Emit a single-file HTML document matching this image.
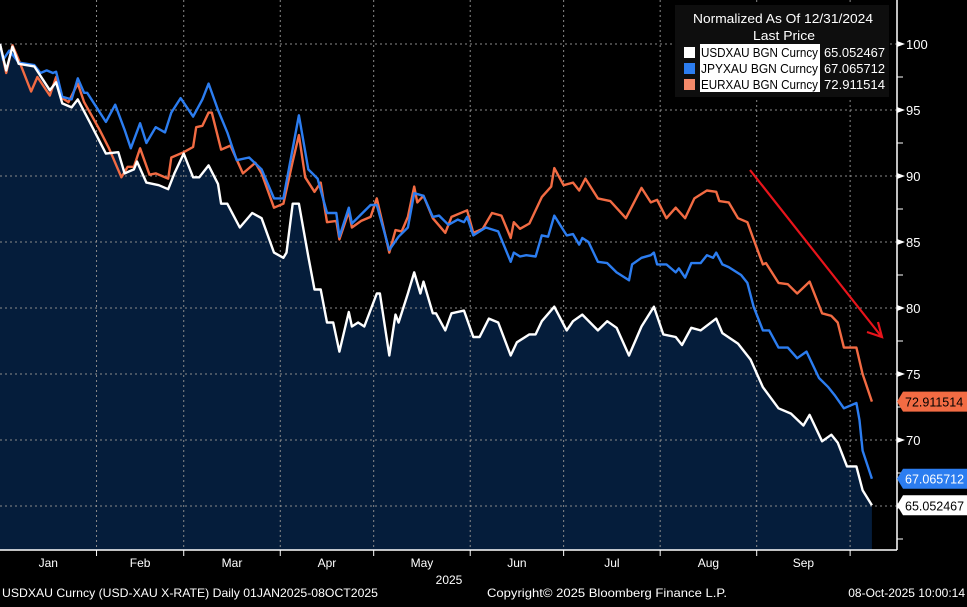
<!DOCTYPE html>
<html><head><meta charset="utf-8"><style>
body{margin:0;background:#000;width:967px;height:602px;overflow:hidden;font-family:"Liberation Sans",sans-serif}
svg text{font-family:"Liberation Sans",sans-serif}
</style></head><body>
<svg id="chart" width="967" height="602" viewBox="0 0 967 602" xmlns="http://www.w3.org/2000/svg">
<rect width="967" height="602" fill="#000"/>
<g id="grid"></g>
<g id="series"></g>
<g id="axes"></g>
<g id="legend"></g>
</svg>
<script>
// day offsets from 01-Jan-2025 and normalized values
const usdDays=[0,2,4,6,11,16,18,20,23,25,29,34,38,40,43,44,47,51,54,56,59,62,64,67,70,71,73,77,81,84,88,91,92,94,96,99,101,103,105,107,109,112,113,115,117,121,122,125,127,128,131,133,135,136,139,140,143,145,149,152,154,157,160,164,166,170,172,174,178,182,184,187,192,195,198,202,206,210,213,217,219,222,225,230,232,237,241,245,250,254,258,260,264,267,269,272,275,277,280];
const usdVals=[100,98,99.8,98.5,98.3,96.5,97.1,95.5,95.2,95.8,94.0,91.7,91.8,90.2,90.5,91.1,89.5,89.3,89.0,90.2,91.7,89.9,89.9,90.8,89.4,87.9,87.9,86.1,87.2,86.8,84.2,83.8,84.2,87.9,87.9,83.9,81.4,81.4,78.9,78.9,76.7,79.7,78.6,78.9,78.6,81.1,81.1,76.4,79.5,78.9,81.1,82.7,81.1,82.0,79.6,79.6,78.3,79.6,79.8,77.8,77.8,79.2,78.9,76.4,77.4,78.0,78.0,79.0,80.1,78.3,79.0,79.5,78.3,79.0,78.5,76.4,78.6,80.1,78.0,77.8,77.2,78.5,78.3,79.2,78.1,77.3,76.1,74.0,72.4,72.0,71.1,71.9,69.9,70.4,69.8,68.0,68.0,66.2,65.052467];
const jpyDays=[0,1,3,6,11,13,15,17,18,20,23,25,27,28,34,37,40,42,45,47,50,53,55,58,62,65,67,70,73,76,80,84,88,91,96,99,102,105,108,109,112,113,119,121,125,128,131,133,136,139,141,144,147,149,150,152,156,160,164,165,167,169,172,174,176,178,182,184,186,187,189,192,195,198,202,203,206,209,210,211,214,217,218,220,222,225,227,229,230,232,234,238,240,242,245,247,250,253,256,259,263,266,268,271,275,276,277,280];
const jpyVals=[100,98.8,99.5,98.6,98.4,97.8,98.0,97.8,97.9,96.0,95.8,97.4,96.3,96.3,94.1,95.4,93.5,92.1,94.0,92.5,93.7,93.3,94.8,95.9,94.5,95.8,97.0,95.0,93.3,91.2,91.4,90.5,88.3,88.3,94.6,90.5,89.8,87.2,87.2,85.4,87.6,86.4,87.8,87.8,84.4,85.4,86.1,88.7,88.5,86.9,87.0,86.3,86.7,86.5,86.9,85.5,86.1,85.8,83.5,84.2,83.9,84.0,83.9,85.5,85.4,87.0,85.5,85.6,84.8,85.3,85.0,83.5,83.4,82.7,82.1,83.3,83.8,84.0,84.2,83.3,83.3,82.7,83.0,82.3,83.4,83.4,84.0,83.8,84.2,83.3,83.1,82.5,81.9,80.1,78.3,78.3,77.0,77.0,76.2,76.7,74.7,74.0,73.4,72.4,72.8,71.5,69.2,67.065712];
const eurDays=[0,2,4,6,10,12,16,18,20,22,25,27,32,35,39,41,43,45,48,50,54,55,59,62,63,65,67,68,71,74,78,82,84,88,91,94,96,98,101,103,105,108,109,112,113,116,119,121,125,127,129,131,133,134,136,139,143,145,150,152,155,158,161,164,165,167,170,174,177,178,181,184,186,188,192,196,201,206,209,211,214,217,220,223,227,230,231,234,237,240,242,245,246,250,253,256,260,264,267,269,271,275,277,280];
const eurVals=[100,97.8,99.9,98.8,96.4,97.5,96.1,97.5,95.9,95.6,97.0,95.6,93.5,92.1,89.9,90.7,90.7,92.1,90.1,90.2,89.8,91.4,91.8,92.2,93.7,93.8,94.8,94.8,92.0,92.3,90.2,91.0,90.2,87.6,87.9,91.1,93.1,89.9,88.8,89.5,86.5,86.6,85.2,87.3,86.1,86.6,86.9,88.3,84.2,85.9,85.8,86.9,89.2,88.0,88.5,86.8,85.7,86.9,87.4,85.7,86.0,87.2,87.0,85.3,86.5,86.0,86.4,88.4,89.2,90.6,89.3,89.5,88.9,89.8,88.3,88.1,86.8,89.1,88.0,88.2,86.8,87.6,86.8,88.3,88.9,88.8,88.1,88.0,86.8,86.5,85.2,83.3,83.4,81.9,81.8,81.1,82.0,79.6,79.4,78.9,77.0,77.0,75.0,72.911514];
const yTicks=[100,95,90,85,80,75,70,65];
const monthLabels=["Jan","Feb","Mar","Apr","May","Jun","Jul","Aug","Sep"];
const monthStarts=[0,31,59,90,120,151,181,212,243,273];
const legendNames=["USDXAU BGN Curncy","JPYXAU BGN Curncy","EURXAU BGN Curncy"];
const lastVals=["65.052467","67.065712","72.911514"];

const NS="http://www.w3.org/2000/svg";
const X0=0,PX=3.114,Y100=44,PY=13.2,BOTTOM=550,RIGHT=897;
function xs(d){return X0+d*PX;}
function ys(v){return Y100+(100-v)*PY;}
function mk(tag,attrs,parent){const e=document.createElementNS(NS,tag);for(const k in attrs)e.setAttribute(k,attrs[k]);parent.appendChild(e);return e;}
const grid=document.getElementById('grid'),ser=document.getElementById('series'),axes=document.getElementById('axes'),leg=document.getElementById('legend');

yTicks.forEach(v=>{
  const l=mk('line',{x1:0,x2:RIGHT,y1:ys(v),y2:ys(v),stroke:'#8a8a8a','stroke-width':1,'stroke-dasharray':'2,3'},grid);
  
  
  const t=mk('path',{d:`M${RIGHT} ${ys(v)-3}L${RIGHT+8} ${ys(v)}L${RIGHT} ${ys(v)+3}Z`,fill:'#fff'},axes);
  
  
  const tx=mk('text',{x:RIGHT+9,y:ys(v)+5,fill:'#fff','font-size':13},axes);
  tx.textContent=v;
  
  
});
[97.5,92.5,87.5,82.5,77.5,72.5,67.5,62.5].forEach(v=>{mk('line',{x1:RIGHT,x2:RIGHT+6,y1:ys(v),y2:ys(v),stroke:'#fff'},axes);});
monthStarts.forEach((d,i)=>{
  if(i>0){const g=mk('line',{x1:xs(d),x2:xs(d),y1:0,y2:BOTTOM,stroke:'#8a8a8a','stroke-width':1,'stroke-dasharray':'2,3'},grid);
  
  
  mk('line',{x1:xs(d),x2:xs(d),y1:BOTTOM,y2:BOTTOM+6,stroke:'#fff'},axes);}
  if(i<monthLabels.length){const t=mk('text',{x:(xs(d)+xs(monthStarts[i+1]))/2,y:567,fill:'#fff','font-size':12,'text-anchor':'middle'},axes);
  t.textContent=monthLabels[i];
  
  }
});
function pts(days,vals){return days.map((d,i)=>xs(d).toFixed(1)+','+ys(vals[i]).toFixed(1));}
const up=pts(usdDays,usdVals);
const area=mk('polygon',{points:up.join(' ')+` ${xs(usdDays[usdDays.length-1])},${BOTTOM} 0,${BOTTOM}`,fill:'#051d3b'},ser);


grid.parentNode.insertBefore(ser,grid);
const defs=[[eurDays,eurVals,'#f26b43','eur-line'],[jpyDays,jpyVals,'#2c7df0','jpy-line'],[usdDays,usdVals,'#ffffff','usd-line']];
defs.forEach(([d,v,c,n])=>{const p=mk('polyline',{points:pts(d,v).join(' '),fill:'none',stroke:c,'stroke-width':2.4,'stroke-linejoin':'round'},axes.parentNode);
  
  
  axes.parentNode.insertBefore(p,axes);});
mk('line',{x1:RIGHT,x2:RIGHT,y1:0,y2:BOTTOM,stroke:'#fff','stroke-width':1.5},axes);
mk('line',{x1:0,x2:RIGHT,y1:BOTTOM,y2:BOTTOM,stroke:'#fff','stroke-width':1.5},axes);
// last value tags
const tagCols=[['#fff','#000'],['#2c7df0','#fff'],['#f26b43','#000']];
[usdVals,jpyVals,eurVals].forEach((arr,i)=>{
  const yv=ys(arr[arr.length-1]);
  const g=mk('g',{},axes);
  
  
  mk('path',{d:`M${RIGHT} ${yv}L${RIGHT+6} ${yv-10}H967V${yv+10}H${RIGHT+6}Z`,fill:tagCols[i][0]},g);
  const t=mk('text',{x:RIGHT+8,y:yv+5,fill:tagCols[i][1],'font-size':12.5},g);t.textContent=lastVals[i];
});
// arrow
const ar=mk('g',{},axes);


mk('line',{x1:750,y1:170,x2:881,y2:336,stroke:'#e8141b','stroke-width':2.2},ar);
mk('path',{d:'M867 332L882 337L878 322',fill:'none',stroke:'#e8141b','stroke-width':2.2,'stroke-linejoin':'miter'},ar);
// legend
mk('rect',{x:675,y:5,width:214,height:92,fill:'#0e0e0e'},leg);
let t=mk('text',{x:693,y:23,fill:'#fff','font-size':12.5,textLength:180,lengthAdjust:'spacingAndGlyphs'},leg);t.textContent="Normalized As Of 12/31/2024";
t=mk('text',{x:753,y:40,fill:'#fff','font-size':12.5,textLength:62,lengthAdjust:'spacingAndGlyphs'},leg);t.textContent="Last Price";
const sw=['#fff','#2c7df0','#f58a6a'];
legendNames.forEach((n,i)=>{
  const y=44+i*16;
  const g=mk('g',{},leg);
  
  
  mk('rect',{x:684,y:y+3,width:11,height:11,fill:sw[i]},g);
  mk('rect',{x:700,y:y,width:120,height:16,fill:'#fff'},g);
  const a=mk('text',{x:701,y:y+13,fill:'#000','font-size':12.5,textLength:117,lengthAdjust:'spacingAndGlyphs'},g);a.textContent=n;
  const b=mk('text',{x:824,y:y+13,fill:'#fff','font-size':12.5,textLength:61,lengthAdjust:'spacingAndGlyphs'},g);b.textContent=lastVals[i];
});
// footer
const foot=[[449,584,'middle','2025','x-axis-year'],[2,597,'start','USDXAU Curncy (USD-XAU X-RATE) Daily 01JAN2025-08OCT2025','footer-description'],[487,597,'start','Copyright© 2025 Bloomberg Finance L.P.','footer-copyright'],[965,597,'end','08-Oct-2025 10:00:14','footer-timestamp']];
foot.forEach(f=>{const e=mk('text',{x:f[0],y:f[1],fill:'#fff','font-size':12,'text-anchor':f[2]},axes);e.textContent=f[3];
  if(f[4]==='footer-description'){e.setAttribute('textLength',376);e.setAttribute('lengthAdjust','spacingAndGlyphs');}
  if(f[4]==='footer-copyright'){e.setAttribute('textLength',240);e.setAttribute('lengthAdjust','spacingAndGlyphs');}
  
  });
</script>
</body></html>
